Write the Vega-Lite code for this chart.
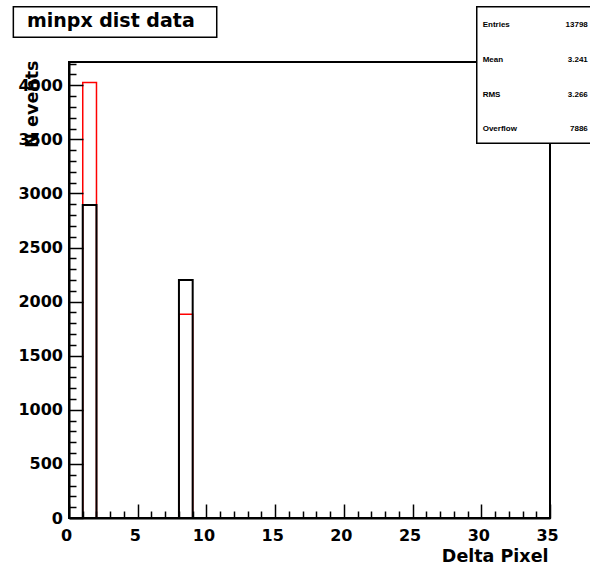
{
  "$schema": "https://vega.github.io/schema/vega-lite/v6.json",
  "width": 481,
  "height": 456,
  "autosize": "none",
  "padding": {"left": 69, "top": 62, "right": 40, "bottom": 49},
  "background": "white",
  "config": {"view": {"stroke": "black", "strokeWidth": 2, "fill": "white"}, "font": "DejaVu Sans"},
  "datasets": {
    "hist": [
      {"series": "reference", "bin_start": 1, "bin_end": 2, "count": 4025},
      {"series": "reference", "bin_start": 8, "bin_end": 9, "count": 1884},
      {"series": "data", "bin_start": 1, "bin_end": 2, "count": 2893},
      {"series": "data", "bin_start": 8, "bin_end": 9, "count": 2200}
    ],
    "stats": [
      {"stat": "Entries", "value": "13798"},
      {"stat": "Mean", "value": "3.241"},
      {"stat": "RMS", "value": "3.266"},
      {"stat": "Overflow", "value": "7886"}
    ],
    "titles": [{"text": "minpx dist data"}]
  },
  "resolve": {"scale": {"x": "independent", "y": "independent"}, "axis": {"x": "independent", "y": "independent"}},
  "layer": [
    {
      "data": {"name": "hist"},
      "mark": {"type": "rect", "fill": "transparent"},
      "encoding": {
        "x": {
          "field": "bin_start", "type": "quantitative",
          "scale": {"domain": [0, 35], "nice": false, "zero": false},
          "axis": {
            "values": [0,1,2,3,4,5,6,7,8,9,10,11,12,13,14,15,16,17,18,19,20,21,22,23,24,25,26,27,28,29,30,31,32,33,34,35],
            "format": "d",
            "labelExpr": "datum.value % 5 === 0 ? datum.label : ''",
            "tickSize": {"condition": {"test": "datum.value % 5 === 0", "value": -14}, "value": -7},
            "tickColor": "black", "tickWidth": 1.5,
            "domainColor": "black", "domainWidth": 2,
            "labelFont": "DejaVu Sans", "labelFontWeight": "bold", "labelFontSize": 16, "labelColor": "black",
            "labelPadding": 23, "labelFlush": false, "labelOverlap": false, "labelOffset": -3,
            "grid": false, "orient": "bottom",
            "title": "Delta Pixel", "titleFont": "DejaVu Sans", "titleFontWeight": "bold", "titleFontSize": 17.5, "titleColor": "black",
            "titleX": 479, "titleY": 43.5, "titleAlign": "right", "titleBaseline": "alphabetic",
            "zindex": 1
          }
        },
        "x2": {"field": "bin_end"},
        "y": {
          "field": "count", "type": "quantitative",
          "scale": {"domain": [0, 4215], "nice": false, "zero": true},
          "axis": {
            "values": [0,100,200,300,400,500,600,700,800,900,1000,1100,1200,1300,1400,1500,1600,1700,1800,1900,2000,2100,2200,2300,2400,2500,2600,2700,2800,2900,3000,3100,3200,3300,3400,3500,3600,3700,3800,3900,4000,4100,4200],
            "format": "d",
            "labelExpr": "datum.value % 500 === 0 ? datum.label : ''",
            "tickSize": {"condition": {"test": "datum.value % 500 === 0", "value": -14}, "value": -7},
            "tickColor": "black", "tickWidth": 1.5,
            "domainColor": "black", "domainWidth": 2,
            "labelFont": "DejaVu Sans", "labelFontWeight": "bold", "labelFontSize": 16, "labelColor": "black",
            "labelPadding": 20.5, "labelOverlap": false, "labelFlush": false,
            "grid": false, "orient": "left",
            "title": "N events", "titleFont": "DejaVu Sans", "titleFontWeight": "bold", "titleFontSize": 17.5, "titleColor": "black",
            "titleX": -32, "titleY": -2, "titleAngle": -90, "titleAlign": "right", "titleBaseline": "alphabetic",
            "zindex": 1
          }
        },
        "y2": {"datum": 0},
        "stroke": {"field": "series", "type": "nominal", "scale": {"domain": ["reference", "data"], "range": ["#ff0000", "#000000"]}, "legend": null},
        "strokeWidth": {"field": "series", "type": "nominal", "scale": {"domain": ["reference", "data"], "range": [1.5, 2]}, "legend": null}
      }
    },
    {
      "data": {"name": "titles"},
      "layer": [
        {
          "mark": {"type": "rect", "fill": "white", "stroke": "black", "strokeWidth": 1.5},
          "encoding": {
            "x": {"datum": -4.05, "type": "quantitative", "scale": {"domain": [0, 35], "nice": false, "zero": false}, "axis": null},
            "x2": {"datum": 10.75},
            "y": {"datum": 4726, "type": "quantitative", "scale": {"domain": [0, 4215], "nice": false, "zero": true}, "axis": null},
            "y2": {"datum": 4443}
          }
        },
        {
          "mark": {"type": "text", "align": "left", "baseline": "alphabetic", "font": "DejaVu Sans", "fontWeight": "bold", "fontSize": 19, "color": "black"},
          "encoding": {
            "x": {"datum": -3.06, "type": "quantitative", "scale": {"domain": [0, 35], "nice": false, "zero": false}, "axis": null},
            "y": {"datum": 4541, "type": "quantitative", "scale": {"domain": [0, 4215], "nice": false, "zero": true}, "axis": null},
            "text": {"field": "text"}
          }
        },
        {
          "mark": {"type": "rect", "fill": "white", "stroke": "black", "strokeWidth": 1.5},
          "encoding": {
            "x": {"datum": 29.67, "type": "quantitative", "scale": {"domain": [0, 35], "nice": false, "zero": false}, "axis": null},
            "x2": {"datum": 38.6},
            "y": {"datum": 4726, "type": "quantitative", "scale": {"domain": [0, 4215], "nice": false, "zero": true}, "axis": null},
            "y2": {"datum": 3463}
          }
        }
      ]
    },
    {
      "data": {"name": "stats"},
      "layer": [
        {
          "mark": {"type": "text", "align": "left", "baseline": "middle", "font": "Liberation Sans", "fontWeight": "bold", "fontSize": 8, "color": "black"},
          "encoding": {
            "x": {"datum": 30.1, "type": "quantitative", "scale": {"domain": [0, 35], "nice": false, "zero": false}, "axis": null},
            "y": {"field": "stat", "type": "nominal", "sort": null, "scale": {"type": "point", "range": [-37, 67.3], "padding": 0}, "axis": null},
            "text": {"field": "stat"}
          }
        },
        {
          "mark": {"type": "text", "align": "right", "baseline": "middle", "font": "Liberation Sans", "fontWeight": "bold", "fontSize": 8, "color": "black"},
          "encoding": {
            "x": {"datum": 37.75, "type": "quantitative", "scale": {"domain": [0, 35], "nice": false, "zero": false}, "axis": null},
            "y": {"field": "stat", "type": "nominal", "sort": null, "scale": {"type": "point", "range": [-37, 67.3], "padding": 0}, "axis": null},
            "text": {"field": "value"}
          }
        }
      ]
    }
  ]
}
